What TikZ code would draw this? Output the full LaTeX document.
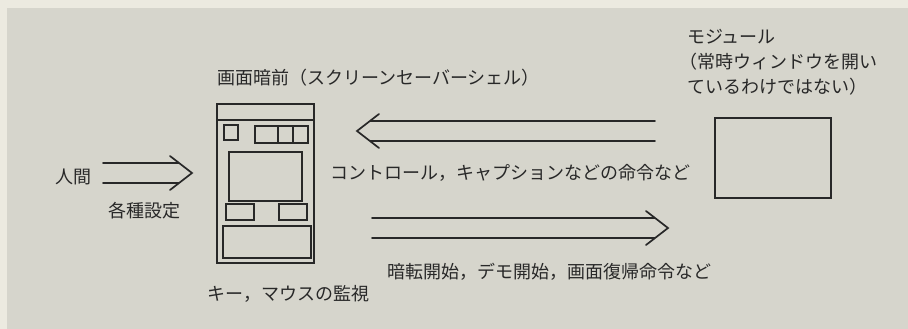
\documentclass[tikz,border=0pt]{standalone}
\usepackage{fontspec}
\setmainfont{Noto Sans CJK JP}
\usetikzlibrary{calc,positioning}
\definecolor{paper}{RGB}{236,234,224}
\definecolor{panel}{RGB}{214,213,204}
\definecolor{ink}{RGB}{40,40,40}

\begin{document}
\begin{tikzpicture}[x=1pt, y=-1pt,
  every node/.style={font=\fontsize{18}{25}\selectfont, text=ink, inner sep=0pt},
  txt/.style={anchor=west},
  winbox/.style={draw=ink, line width=1.4pt},
  pane/.style={draw=ink, line width=1.3pt},
  dblarrow/.style={draw=ink, line width=1.7pt, line cap=round, line join=miter,
    to path={
      ($(\tikztostart)!10pt!90:(\tikztotarget)$) --
      ($(\tikztotarget)!13pt!(\tikztostart)!10pt!-90:(\tikztostart)$)
      ($(\tikztostart)!10pt!-90:(\tikztotarget)$) --
      ($(\tikztotarget)!13pt!(\tikztostart)!10pt!90:(\tikztostart)$)
      ($(\tikztotarget)!22pt!(\tikztostart)!17pt!90:(\tikztotarget)$) --
      (\tikztotarget) --
      ($(\tikztotarget)!22pt!(\tikztostart)!17pt!-90:(\tikztotarget)$)}},
]
  % paper and grey panel
  \fill[paper] (0,0) rectangle (908,329);
  \fill[panel] (7,8) rectangle (908,329);
  \useasboundingbox (0,0) rectangle (908,329);

  % screen saver shell window
  \node[winbox, minimum width=97pt, minimum height=159pt] (screen) at (265.5,183.5) {};
  \draw[pane] (217,120) -- (314,120);
  \draw[pane] (224,125) rectangle (238,140);
  \draw[pane] (255,126) rectangle (308,143);
  \draw[pane] (278,126) -- (278,143);
  \draw[pane] (293,126) -- (293,143);
  \draw[pane] (229,152) rectangle (302,201);
  \draw[pane] (226,204) rectangle (254,220);
  \draw[pane] (279,204) rectangle (307,220);
  \draw[pane] (223,226) rectangle (311,258);

  % module
  \node[winbox, minimum width=116pt, minimum height=80pt] (module) at (773,158) {};

  % labels
  \node[txt] (saver) at (217,78) {画面暗前（スクリーンセーバーシェル）};
  \node[txt] (human) at (55,177) {人間};
  \node[txt] (setting) at (108,211) {各種設定};
  \node[txt] (ctl) at (330,173) {コントロール，キャプションなどの命令など};
  \node[txt] (cmd) at (387,272) {暗転開始，デモ開始，画面復帰命令など};
  \node[txt] (watch) at (207,294) {キー，マウスの監視};
  \node[txt, align=left] (modtxt) at (687,62)
    {モジュール\\\hspace*{-8pt}（常時ウィンドウを開い\\ているわけではない）};

  % arrow ends
  \coordinate (hTail) at (103,173);
  \coordinate (hTip) at (192,173);
  \coordinate (cTail) at (655,131);
  \coordinate (cTip) at (357,131);
  \coordinate (dTail) at (372,228);
  \coordinate (dTip) at (668,228);

  % arrows
  \draw[dblarrow] (hTail) to (hTip);
  \draw[dblarrow] (cTail) to (cTip);
  \draw[dblarrow] (dTail) to (dTip);
\end{tikzpicture}
\end{document}
